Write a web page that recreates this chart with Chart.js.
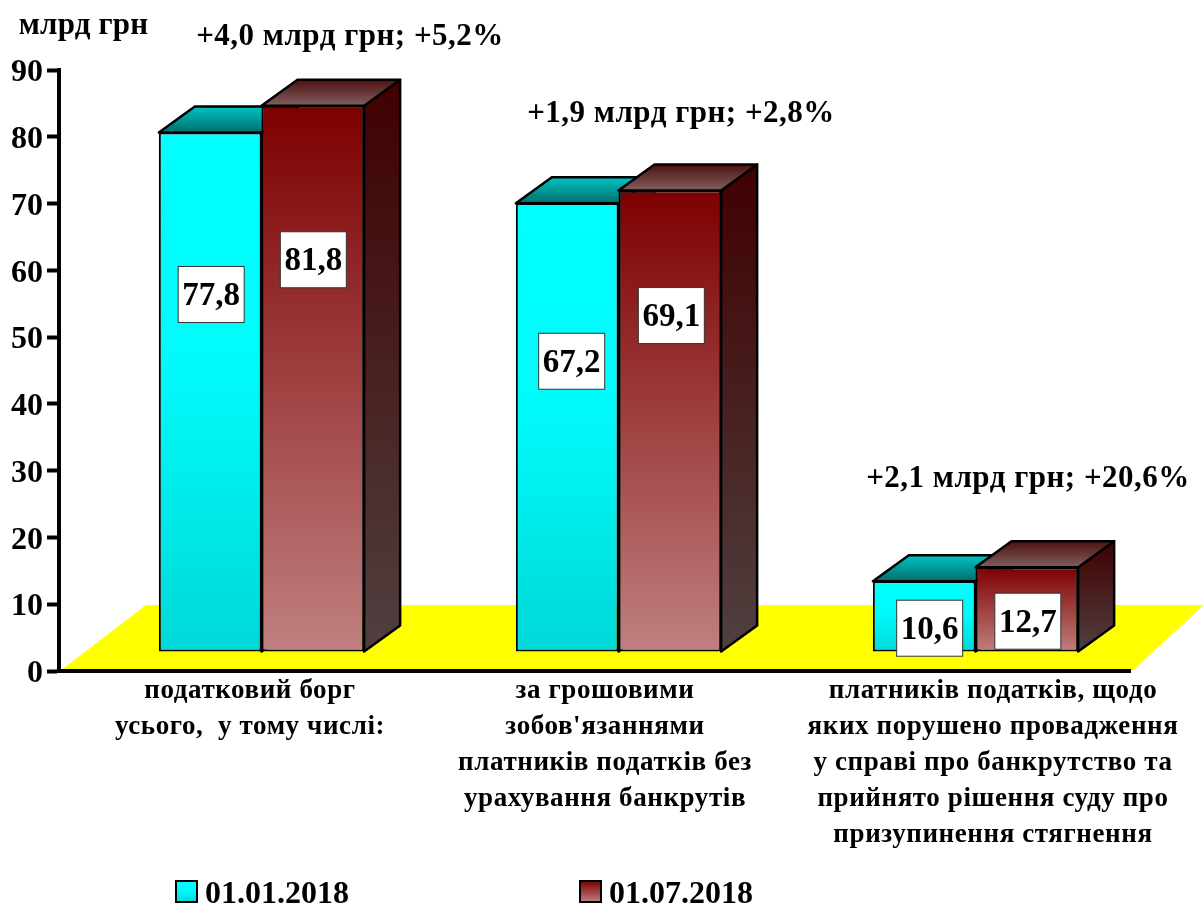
<!DOCTYPE html>
<html>
<head>
<meta charset="utf-8">
<style>html,body{margin:0;padding:0;background:#fff}canvas{display:block}</style>
<script src="https://cdn.jsdelivr.net/npm/chart.js@4"></script>
</head>
<body>
<canvas id="c" width="1204" height="904"></canvas>
<script>
const categories = [
  ["податковий борг", "усього,  у тому числі:"],
  ["за грошовими", "зобов'язаннями", "платників податків без", "урахування банкрутів"],
  ["платників податків, щодо", "яких порушено провадження", "у справі про банкрутство та", "прийнято рішення суду про", "призупинення стягнення"]
];
const seriesNames = ["01.01.2018", "01.07.2018"];
const valuesJan = [77.8, 67.2, 10.6];
const valuesJul = [81.8, 69.1, 12.7];
const valueTextJan = ["77,8", "67,2", "10,6"];
const valueTextJul = ["81,8", "69,1", "12,7"];
const changeNotes = ["+4,0 млрд грн; +5,2%", "+1,9 млрд грн; +2,8%", "+2,1 млрд грн; +20,6%"];
const unitLabel = "млрд грн";

// layout constants
const FONT = "'Liberation Serif', 'Times New Roman', serif";
const SHIFT = {x: 24, y: -19};      // front plane of the bars relative to the axes
const DEPTH = {x: 36, y: -26};      // 3D depth of a bar
const NOTE_POS = [[350, 37], [681, 114], [1028, 479]];
const TICK_SHIFT = [12.5, 10.5, 41.5];
const LEGEND_POS = [176, 580];
const BOX_SHIFT = [[[1, 162], [4.5, 158], [5.5, 47]], [[0.5, 154], [1.5, 125], [1, 54]]];

function vGrad(ctx, y0, y1, stops) {
  const g = ctx.createLinearGradient(0, y0, 0, y1);
  stops.forEach(s => g.addColorStop(s[0], s[1]));
  return g;
}
const STYLE = [
  {front: [[0, '#00ffff'], [0.45, '#00fbfb'], [1, '#00d8d8']],
   side:  [[0, '#007070'], [1, '#006060']],
   top:   [[0, '#00c4c4'], [1, '#006e6e']]},
  {front: [[0, '#7d0000'], [1, '#c08080']],
   side:  [[0, '#400000'], [1, '#504040']],
   top:   [[0, '#4f1010'], [1, '#806060']]}
];
function frontFill(seriesIdx) {
  return function (c) {
    const chart = c.chart;
    if (!chart.chartArea || !chart.scales.y || c.dataIndex === undefined) return STYLE[seriesIdx].front[0][1];
    const y = chart.scales.y;
    return vGrad(chart.ctx, y.getPixelForValue(c.raw), y.getPixelForValue(0), STYLE[seriesIdx].front);
  };
}
function drawFaces(chart, index) {
  const ctx = chart.ctx, st = STYLE[index];
  ctx.lineWidth = 2.5;
  ctx.strokeStyle = '#000';
  ctx.lineJoin = 'round';
  chart.getDatasetMeta(index).data.forEach(el => {
    const l = el.x - el.width / 2, r = el.x + el.width / 2, t = el.y, b = el.base;
    ctx.fillStyle = vGrad(ctx, t + DEPTH.y, b, st.side);
    ctx.beginPath();
    ctx.moveTo(r, t); ctx.lineTo(r + DEPTH.x, t + DEPTH.y);
    ctx.lineTo(r + DEPTH.x, b + DEPTH.y); ctx.lineTo(r, b);
    ctx.closePath(); ctx.fill(); ctx.stroke();
    ctx.fillStyle = vGrad(ctx, t + DEPTH.y, t, st.top);
    ctx.beginPath();
    ctx.moveTo(l, t); ctx.lineTo(l + DEPTH.x, t + DEPTH.y);
    ctx.lineTo(r + DEPTH.x, t + DEPTH.y); ctx.lineTo(r, t);
    ctx.closePath(); ctx.fill(); ctx.stroke();
  });
}

const bars3d = {
  id: 'bars3d',
  beforeDraw(chart) {
    const xs = chart.scales.x, ctx = chart.ctx;
    const items = xs.getLabelItems(chart.chartArea);
    if (!items._moved) {
      items.forEach((it, i) => { it.options.translation[0] += TICK_SHIFT[i]; });
      items._moved = true;
    }
    if (!xs._spaced) {
      const orig = xs.drawLabels;
      xs.drawLabels = function (area) {
        ctx.letterSpacing = '0.6px';
        orig.call(this, area);
        ctx.letterSpacing = '0px';
      };
      xs._spaced = true;
    }
  },
  beforeDatasetsDraw(chart) {
    const ctx = chart.ctx, a = chart.chartArea;
    ctx.save();
    ctx.fillStyle = '#ffff00';
    ctx.beginPath();
    ctx.moveTo(a.left + 1, a.bottom);
    ctx.lineTo(a.left + 87, a.bottom - 66);
    ctx.lineTo(1204, a.bottom - 66);
    ctx.lineTo(a.right + 2, a.bottom);
    ctx.closePath();
    ctx.fill();
    ctx.restore();
  },
  // The library paints the last dataset first; the right-hand series has to
  // overlap the left-hand one, so it is painted after the first has finished.
  beforeDatasetDraw(chart, args) {
    if (args.index === 1) return false;
    const ctx = chart.ctx;
    ctx.save();
    ctx.translate(SHIFT.x, SHIFT.y);
    drawFaces(chart, 0);
  },
  afterDatasetDraw(chart, args) {
    const ctx = chart.ctx;
    if (args.index !== 0) return;
    drawFaces(chart, 1);
    chart.getDatasetMeta(1).controller.draw();
    ctx.restore();
  },
  afterDatasetsDraw(chart) {
    const ctx = chart.ctx;
    const texts = [valueTextJan, valueTextJul];
    ctx.save();
    [0, 1].forEach(si => {
      chart.getDatasetMeta(si).data.forEach((el, i) => {
        const cx = el.x + SHIFT.x + BOX_SHIFT[si][i][0];
        const cy = el.y + SHIFT.y + BOX_SHIFT[si][i][1];
        ctx.fillStyle = '#fff';
        ctx.strokeStyle = '#333';
        ctx.lineWidth = 1;
        ctx.fillRect(cx - 33, cy - 28, 66, 56);
        ctx.strokeRect(cx - 33, cy - 28, 66, 56);
        ctx.fillStyle = '#000';
        ctx.font = 'bold 33px ' + FONT;
        ctx.textAlign = 'center';
        ctx.textBaseline = 'middle';
        ctx.fillText(texts[si][i], cx, cy + 2);
      });
    });
    ctx.fillStyle = '#000';
    ctx.font = 'bold 31px ' + FONT;
    ctx.textAlign = 'center';
    ctx.textBaseline = 'middle';
    ctx.letterSpacing = '0.5px';
    changeNotes.forEach((t, i) => ctx.fillText(t, NOTE_POS[i][0], NOTE_POS[i][1]));
    ctx.letterSpacing = '0.2px';
    ctx.fillText(unitLabel, 83.5, 26);
    ctx.letterSpacing = '0px';
    ctx.textAlign = 'left';
    ctx.textBaseline = 'alphabetic';
    ctx.font = 'bold 32px ' + FONT;
    seriesNames.forEach((name, i) => {
      const x = LEGEND_POS[i];
      ctx.fillStyle = vGrad(ctx, 881, 902, STYLE[i].front);
      ctx.fillRect(x, 881, 21, 21);
      ctx.strokeStyle = '#000';
      ctx.lineWidth = 2;
      ctx.strokeRect(x, 881, 21, 21);
      ctx.fillStyle = '#000';
      ctx.fillText(name, x + 29, 903);
    });
    ctx.restore();
  }
};

new Chart(document.getElementById('c'), {
  type: 'bar',
  plugins: [bars3d],
  data: {
    labels: categories,
    datasets: [
      {label: seriesNames[0], data: valuesJan, backgroundColor: frontFill(0)},
      {label: seriesNames[1], data: valuesJul, backgroundColor: frontFill(1)}
    ]
  },
  options: {
    responsive: false,
    animation: false,
    devicePixelRatio: 1,
    clip: false,
    layout: {padding: {top: 70, right: 74, left: 0, bottom: 0}, autoPadding: false},
    datasets: {bar: {
      categoryPercentage: 0.575, barPercentage: 1,
      borderColor: '#000', borderWidth: 2, borderSkipped: false
    }},
    plugins: {legend: {display: false}, tooltip: {enabled: false}, title: {display: false}},
    scales: {
      x: {
        afterFit(s) { s.height = 233; },
        grid: {display: false, drawTicks: false},
        border: {display: true, color: '#000', width: 4, z: 1},
        ticks: {
          autoSkip: false, maxRotation: 0, minRotation: 0, padding: 2, color: '#000',
          font: {family: FONT, size: 27, weight: 'bold', lineHeight: '36px'}
        }
      },
      y: {
        min: 0, max: 90,
        afterFit(s) { s.width = 59; },
        grid: {display: true, drawOnChartArea: false, drawTicks: true, tickLength: 12, tickColor: '#000', tickWidth: 4, z: 1},
        border: {display: true, color: '#000', width: 4, z: 1},
        ticks: {
          stepSize: 10, padding: 4, color: '#000', labelOffset: 3,
          font: {family: FONT, size: 32, weight: 'bold'}
        }
      }
    }
  }
});
</script>
</body>
</html>
